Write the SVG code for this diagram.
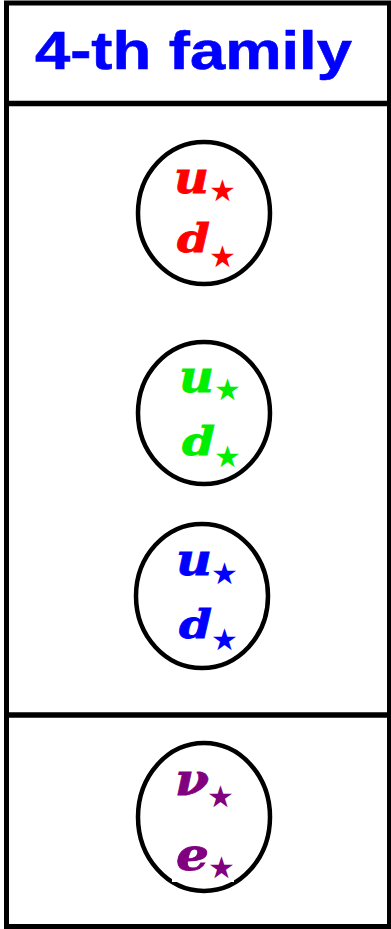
<svg xmlns="http://www.w3.org/2000/svg" width="391" height="929" viewBox="0 0 391 929">
<style>
.frame{fill:none;stroke:#000;stroke-width:5}
.div{stroke:#000;stroke-width:5.5}
.ring{fill:none;stroke:#000;stroke-width:4.5}
.title{font-family:"Liberation Sans",Arial,sans-serif;font-weight:bold;font-size:53px;fill:#0000ff;stroke:#0000ff;stroke-width:0.6}
.m{font-family:"DejaVu Serif","Liberation Serif",serif;font-weight:bold;font-style:italic;font-size:45px;stroke-width:0.8}
.m.tall{font-size:40px}
.s{font-family:"DejaVu Sans","Liberation Sans",sans-serif;font-size:30px}
.red{fill:#ff0000;stroke:#ff0000}.green{fill:#00ee00;stroke:#00ee00}.blue{fill:#0000ff;stroke:#0000ff}.purple{fill:#800080;stroke:#800080}
.s.red,.s.green,.s.blue,.s.purple{stroke:none}
</style>
<rect width="391" height="929" fill="#fff"/>
<g id="frame">
<rect class="frame" x="6.5" y="3" width="383" height="923.5"/>
<line class="div" x1="6" y1="103.5" x2="391" y2="103.5"/>
<line class="div" x1="6" y1="715" x2="391" y2="715"/>
</g>
<g id="title">
<text class="title" x="35" y="69" textLength="317" lengthAdjust="spacingAndGlyphs">4-th family</text>
</g>
<g id="quark-red">
<ellipse class="ring" cx="204" cy="213" rx="66" ry="71"/>
<text class="m red" x="174" y="193" textLength="35" lengthAdjust="spacingAndGlyphs">u</text>
<text class="s red" x="209" y="201">★</text>
<text class="m tall red" x="177" y="252" textLength="33" lengthAdjust="spacingAndGlyphs">d</text>
<text class="s red" x="209" y="267">★</text>
</g>
<g id="quark-green">
<ellipse class="ring" cx="204" cy="413" rx="66" ry="71"/>
<text class="m green" x="179" y="392" textLength="35" lengthAdjust="spacingAndGlyphs">u</text>
<text class="s green" x="214" y="400">★</text>
<text class="m tall green" x="182" y="455" textLength="33" lengthAdjust="spacingAndGlyphs">d</text>
<text class="s green" x="214" y="467">★</text>
</g>
<g id="quark-blue">
<ellipse class="ring" cx="202" cy="596" rx="66" ry="72"/>
<text class="m blue" x="176" y="575" textLength="36" lengthAdjust="spacingAndGlyphs">u</text>
<text class="s blue" x="211" y="584">★</text>
<text class="m tall blue" x="179" y="638" textLength="33" lengthAdjust="spacingAndGlyphs">d</text>
<text class="s blue" x="211" y="650">★</text>
</g>
<g id="lepton">
<ellipse class="ring" cx="204" cy="817" rx="66" ry="74"/>
<rect x="172" y="878" width="62" height="4" fill="#fff"/>
<text class="m purple" x="175" y="795" textLength="34" lengthAdjust="spacingAndGlyphs">ν</text>
<text class="s purple" x="207" y="807">★</text>
<text class="m purple" x="176" y="870" textLength="33" lengthAdjust="spacingAndGlyphs">e</text>
<text class="s purple" x="208" y="878">★</text>
</g>
<g id="connectors"/>
</svg>
